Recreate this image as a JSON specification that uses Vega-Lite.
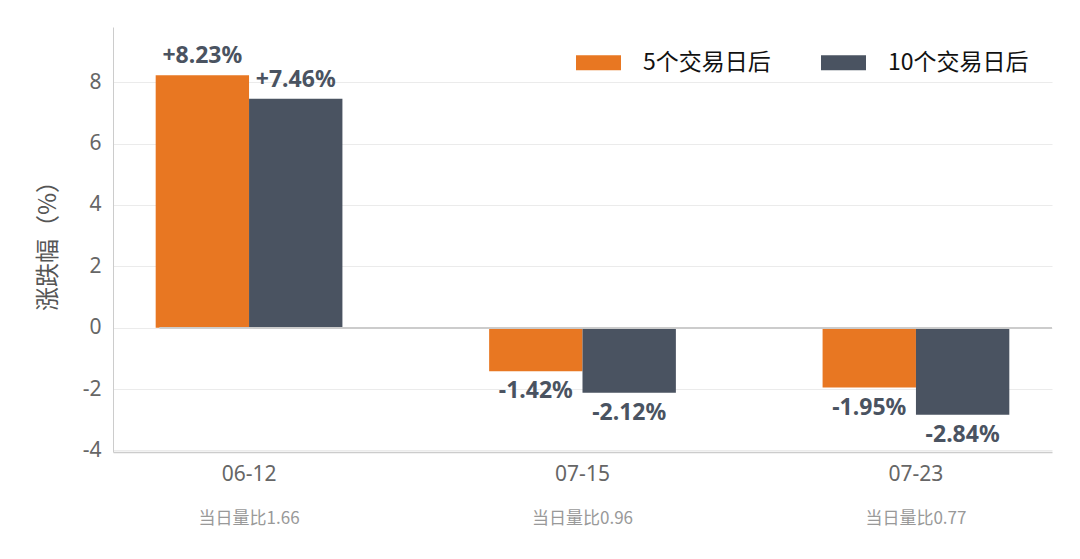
{
  "$schema": "https://vega.github.io/schema/vega-lite/v6.json",
  "width": 939,
  "height": 425,
  "autosize": "none",
  "padding": {"left": 113, "top": 27, "right": 28, "bottom": 107},
  "background": "white",
  "config": {
    "font": "Noto Sans CJK SC",
    "view": {"stroke": null}
  },
  "data": {
    "values": [
      {"date": "06-12|当日量比1.66", "series": "5个交易日后", "value": 8.23},
      {"date": "06-12|当日量比1.66", "series": "10个交易日后", "value": 7.46},
      {"date": "07-15|当日量比0.96", "series": "5个交易日后", "value": -1.42},
      {"date": "07-15|当日量比0.96", "series": "10个交易日后", "value": -2.12},
      {"date": "07-23|当日量比0.77", "series": "5个交易日后", "value": -1.95},
      {"date": "07-23|当日量比0.77", "series": "10个交易日后", "value": -2.84}
    ]
  },
  "transform": [
    {"calculate": "(datum.value > 0 ? '+' : '-') + format(abs(datum.value), '.2f') + '%'", "as": "label"}
  ],
  "encoding": {
    "x": {
      "field": "date",
      "type": "nominal",
      "sort": null,
      "scale": {"paddingInner": 0.44, "paddingOuter": 0.128},
      "title": null
    },
    "xOffset": {
      "field": "series",
      "type": "nominal",
      "sort": ["5个交易日后", "10个交易日后"],
      "scale": {"paddingInner": 0, "paddingOuter": 0}
    },
    "y": {
      "field": "value",
      "type": "quantitative",
      "scale": {"domain": [-4.05, 9.8], "nice": false, "zero": false},
      "axis": {
        "values": [-4, -2, 0, 2, 4, 6, 8],
        "labelExpr": "replace(datum.label, '−', '-')",
        "title": "涨跌幅（%）",
        "titleFontSize": 24,
        "titleFontWeight": "normal",
        "titleColor": "#555555",
        "titlePadding": 22,
        "labelFontSize": 21,
        "labelColor": "#666666",
        "labelPadding": 12,
        "ticks": false,
        "domainColor": "#cccccc",
        "gridColor": "#ebebeb",
        "labelFont": "Noto Sans"
      }
    }
  },
  "layer": [
    {
      "mark": {"type": "bar"},
      "encoding": {
        "color": {
          "field": "series",
          "type": "nominal",
          "scale": {"domain": ["5个交易日后", "10个交易日后"], "range": ["#E87722", "#4A5361"]},
          "legend": {
            "title": null,
            "orient": "none",
            "legendX": 463,
            "legendY": 13,
            "direction": "horizontal",
            "symbolType": "M-1,-0.333H1V0.333H-1Z",
            "symbolSize": 2025,
            "symbolStrokeWidth": 0,
            "symbolOpacity": 1,
            "labelFontSize": 23,
            "labelColor": "#111111",
            "labelOffset": 22,
            "columnPadding": 50,
            "padding": 0
          }
        },
        "x": {
          "field": "date",
          "type": "nominal",
          "sort": null,
          "axis": {
            "orient": "bottom",
            "labelExpr": "split(datum.label, '|')[0]",
            "labelAngle": 0,
            "labelFontSize": 21,
            "labelColor": "#666666",
            "labelPadding": 11,
            "ticks": false,
            "domainColor": "#cccccc",
            "domainWidth": 1.5,
            "labelFont": "Noto Sans"
          }
        }
      }
    },
    {
      "mark": {"type": "rule", "color": "#cccccc", "strokeWidth": 1.5},
      "encoding": {
        "y": {"datum": 0},
        "x": {"value": 0},
        "x2": {"value": 939}
      }
    },
    {
      "transform": [{"filter": "datum.value > 0"}],
      "mark": {"type": "text", "baseline": "bottom", "dy": -7, "fontSize": 23, "fontWeight": "bold", "color": "#4A5361", "font": "Noto Sans"},
      "encoding": {
        "text": {"field": "label"},
        "x": {
          "field": "date",
          "type": "nominal",
          "sort": null,
          "axis": {
            "orient": "bottom",
            "labelExpr": "split(datum.label, '|')[1]",
            "labelAngle": 0,
            "labelFontSize": 17,
            "labelColor": "#999999",
            "labelPadding": 58,
            "ticks": false,
            "domain": false,
            "grid": false
          }
        }
      }
    },
    {
      "transform": [{"filter": "datum.value < 0"}],
      "mark": {"type": "text", "baseline": "top", "dy": 9, "fontSize": 23, "fontWeight": "bold", "color": "#4A5361", "font": "Noto Sans"},
      "encoding": {
        "text": {"field": "label"},
        "x": {"field": "date", "type": "nominal", "sort": null, "axis": null}
      }
    }
  ],
  "resolve": {"axis": {"x": "independent"}}
}
